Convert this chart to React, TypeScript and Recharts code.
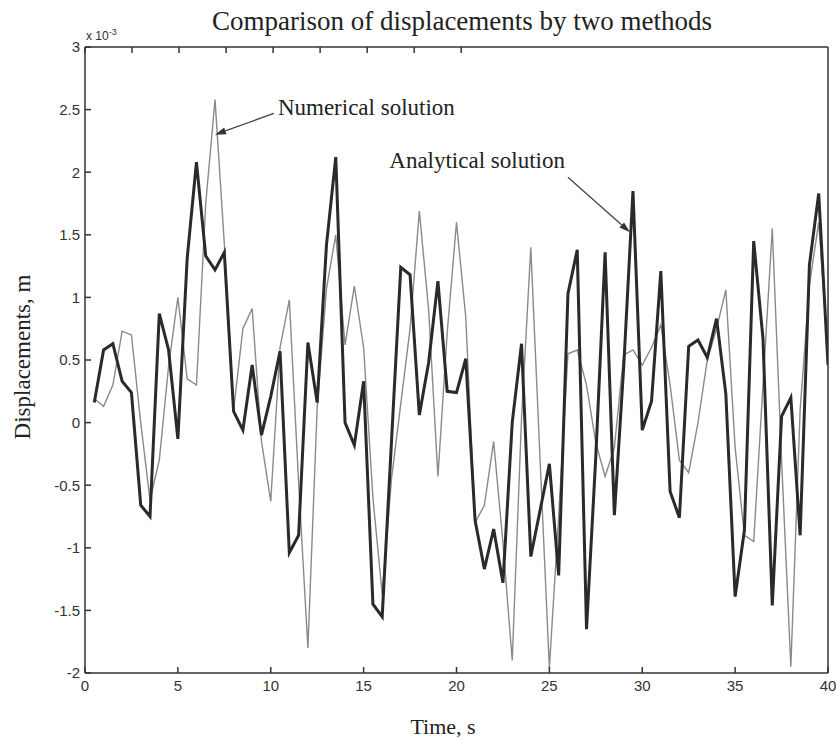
import { LineChart, Line, XAxis, YAxis, ReferenceLine } from 'recharts';

// time samples, s
const time = [
    0.5, 1, 1.5, 2, 2.5, 3, 3.5, 4, 4.5, 5,
    5.5, 6, 6.5, 7, 7.5, 8, 8.5, 9, 9.5, 10,
    10.5, 11, 11.5, 12, 12.5, 13, 13.5, 14, 14.5, 15,
    15.5, 16, 16.5, 17, 17.5, 18, 18.5, 19, 19.5, 20,
    20.5, 21, 21.5, 22, 22.5, 23, 23.5, 24, 24.5, 25,
    25.5, 26, 26.5, 27, 27.5, 28, 28.5, 29, 29.5, 30,
    30.5, 31, 31.5, 32, 32.5, 33, 33.5, 34, 34.5, 35,
    35.5, 36, 36.5, 37, 37.5, 38, 38.5, 39, 39.5, 40,
];

// displacements, x 10^-3 m
const analytical = [
    0.16, 0.58, 0.63, 0.33, 0.24, -0.66, -0.75, 0.87, 0.58, -0.13,
    1.31, 2.08, 1.33, 1.22, 1.36, 0.09, -0.06, 0.46, -0.1, 0.21,
    0.57, -1.04, -0.9, 0.64, 0.16, 1.42, 2.12, 0.0, -0.18, 0.33,
    -1.45, -1.55, -0.15, 1.24, 1.18, 0.06, 0.48, 1.13, 0.25, 0.24,
    0.51, -0.78, -1.17, -0.85, -1.28, 0.0, 0.63, -1.07, -0.7, -0.33,
    -1.22, 1.03, 1.38, -1.65, -0.27, 1.36, -0.74, 0.44, 1.85, -0.06,
    0.17, 1.21, -0.55, -0.76, 0.61, 0.66, 0.52, 0.83, 0.23, -1.39,
    -0.86, 1.45, 0.67, -1.46, 0.05, 0.2, -0.9, 1.26, 1.83, 0.46,
];

const numerical = [
    0.19, 0.13, 0.3, 0.73, 0.7, 0.0, -0.62, -0.3, 0.45, 1.0,
    0.35, 0.3, 1.75, 2.58, 1.43, 0.1, 0.75, 0.91, -0.15, -0.63,
    0.6, 0.98, -0.48, -1.8, 0.12, 1.07, 1.5, 0.62, 1.09, 0.6,
    -0.6, -1.37, -0.45, 0.15, 0.75, 1.69, 0.9, -0.43, 0.72, 1.6,
    0.84, -0.8, -0.66, -0.15, -0.96, -1.9, 0.03, 1.4, -0.3, -1.96,
    -0.75, 0.55, 0.58, 0.3, -0.16, -0.43, -0.2, 0.54, 0.58, 0.46,
    0.6, 0.78, 0.3, -0.3, -0.4, 0.0, 0.5, 0.75, 1.06, -0.2,
    -0.9, -0.95, 0.3, 1.55, -0.3, -1.95, 0.1, 1.1, 1.6, 0.55,
];

const xTicks = [0, 5, 10, 15, 20, 25, 30, 35, 40];
const yTicks = [-2, -1.5, -1, -0.5, 0, 0.5, 1, 1.5, 2, 2.5, 3];

// arrow annotations, in data units: [from, to]
const numericalArrow = [{ x: 10.17, y: 2.47 }, { x: 7.0, y: 2.3 }];
const analyticalArrow = [{ x: 26.0, y: 1.96 }, { x: 29.34, y: 1.52 }];

const data = time.map((t, i) => ({ t, analytical: analytical[i], numerical: numerical[i] }));

const serif = '"Liberation Serif", "Times New Roman", serif';
const sans = '"Liberation Sans", Arial, sans-serif';
const axisColor = '#333';
const tickStyle = { fill: '#333', fontSize: 15, fontFamily: sans };

function arrowShape(label: string, anchor: 'start' | 'end', dx: number, dy: number) {
    return (props: any) => {
        const { x1, y1, x2, y2 } = props;
        const ang = Math.atan2(y2 - y1, x2 - x1);
        const len = 11;
        const w = 3.5;
        const bx = x2 - len * Math.cos(ang);
        const by = y2 - len * Math.sin(ang);
        const p1 = `${bx - w * Math.sin(ang)},${by + w * Math.cos(ang)}`;
        const p2 = `${bx + w * Math.sin(ang)},${by - w * Math.cos(ang)}`;
        return (
            <g>
                <line x1={x1} y1={y1} x2={bx} y2={by} stroke="#444" strokeWidth={1.3} />
                <polygon points={`${x2},${y2} ${p1} ${p2}`} fill="#333" />
                <text x={x1 + dx} y={y1 + dy} textAnchor={anchor} fontFamily={serif} fontSize={23} fill="#222">
                    {label}
                </text>
            </g>
        );
    };
}

export default function App() {
    return (
        <div style={{ position: 'absolute', left: 0, top: 0, width: 836, height: 739, background: '#fff' }}>
            <LineChart width={836} height={739} data={data} margin={{ top: 46, right: 7, bottom: 36, left: 45 }}>
                <XAxis
                    dataKey="t"
                    type="number"
                    domain={[0, 40]}
                    ticks={xTicks}
                    height={30}
                    tickSize={-6}
                    tickMargin={13}
                    stroke={axisColor}
                    strokeWidth={1.5}
                    tick={tickStyle}
                    interval={0}
                    allowDataOverflow
                />
                <XAxis
                    xAxisId="top"
                    orientation="top"
                    type="number"
                    domain={[0, 40]}
                    ticks={xTicks}
                    height={1}
                    tickSize={-6}
                    stroke={axisColor}
                    strokeWidth={1.5}
                    interval={0}
                    tickFormatter={() => ''}
                />
                <YAxis
                    type="number"
                    domain={[-2, 3]}
                    ticks={yTicks}
                    width={40}
                    tickSize={-6}
                    tickMargin={11}
                    stroke={axisColor}
                    strokeWidth={1.5}
                    tick={tickStyle}
                    interval={0}
                    allowDataOverflow
                />
                <YAxis
                    yAxisId="right"
                    orientation="right"
                    type="number"
                    domain={[-2, 3]}
                    ticks={yTicks}
                    width={1}
                    tickSize={-6}
                    stroke={axisColor}
                    strokeWidth={1.5}
                    tickFormatter={() => ''}
                    interval={0}
                />
                <Line
                    type="linear"
                    dataKey="numerical"
                    stroke="#8a8a8a"
                    strokeWidth={1.4}
                    dot={false}
                    isAnimationActive={false}
                />
                <Line
                    type="linear"
                    dataKey="analytical"
                    stroke="#2a2a2a"
                    strokeWidth={3}
                    dot={false}
                    isAnimationActive={false}
                />
                <ReferenceLine
                    segment={numericalArrow}
                    shape={arrowShape('Numerical solution', 'start', 4, 2)}
                />
                <ReferenceLine
                    segment={analyticalArrow}
                    shape={arrowShape('Analytical solution', 'end', -3, -9)}
                />
            </LineChart>
            <svg width={836} height={739} style={{ position: 'absolute', left: 0, top: 0, pointerEvents: 'none' }}>
                <text x={462} y={30} textAnchor="middle" fontFamily={serif} fontSize={27} fill="#222">
                    Comparison of displacements by two methods
                </text>
                <text x={86} y={40} fontFamily={sans} fontSize={12} fill="#333">
                    x 10<tspan dy={-5} fontSize={9}>-3</tspan>
                </text>
                <text
                    x={30}
                    y={357}
                    textAnchor="middle"
                    fontFamily={serif}
                    fontSize={23}
                    fill="#222"
                    transform="rotate(-90 30 357)"
                >
                    Displacements, m
                </text>
                <text x={443} y={734} textAnchor="middle" fontFamily={serif} fontSize={22} fill="#222">
                    Time, s
                </text>
            </svg>
        </div>
    );
}
